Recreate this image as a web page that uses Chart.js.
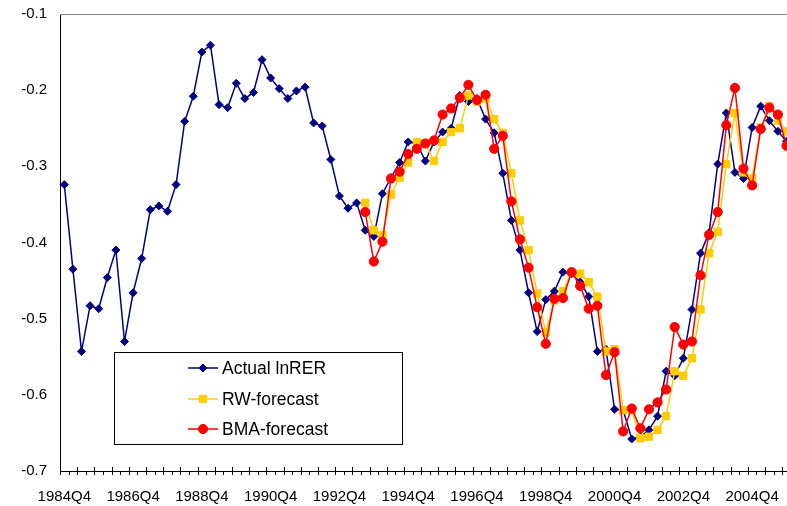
<!DOCTYPE html>
<html>
<head>
<meta charset="utf-8">
<script src="https://cdn.jsdelivr.net/npm/chart.js@4.4.0/dist/chart.umd.min.js"></script>
<style>
  html, body { margin: 0; padding: 0; background: #fff; overflow: hidden; }
  #wrap { position: relative; width: 797px; height: 506px; }
</style>
</head>
<body>
<div id="wrap"><canvas id="rer"></canvas></div>
<script>
// quarters 1984Q4 .. 2005Q4
const quarters = [
  '1984Q4',
  '1985Q1', '1985Q2', '1985Q3', '1985Q4', '1986Q1', '1986Q2', '1986Q3', '1986Q4',
  '1987Q1', '1987Q2', '1987Q3', '1987Q4', '1988Q1', '1988Q2', '1988Q3', '1988Q4',
  '1989Q1', '1989Q2', '1989Q3', '1989Q4', '1990Q1', '1990Q2', '1990Q3', '1990Q4',
  '1991Q1', '1991Q2', '1991Q3', '1991Q4', '1992Q1', '1992Q2', '1992Q3', '1992Q4',
  '1993Q1', '1993Q2', '1993Q3', '1993Q4', '1994Q1', '1994Q2', '1994Q3', '1994Q4',
  '1995Q1', '1995Q2', '1995Q3', '1995Q4', '1996Q1', '1996Q2', '1996Q3', '1996Q4',
  '1997Q1', '1997Q2', '1997Q3', '1997Q4', '1998Q1', '1998Q2', '1998Q3', '1998Q4',
  '1999Q1', '1999Q2', '1999Q3', '1999Q4', '2000Q1', '2000Q2', '2000Q3', '2000Q4',
  '2001Q1', '2001Q2', '2001Q3', '2001Q4', '2002Q1', '2002Q2', '2002Q3', '2002Q4',
  '2003Q1', '2003Q2', '2003Q3', '2003Q4', '2004Q1', '2004Q2', '2004Q3', '2004Q4',
  '2005Q1', '2005Q2', '2005Q3', '2005Q4'
];

// labels printed under the axis
const tickLabels = ['1984Q4', '1986Q4', '1988Q4', '1990Q4', '1992Q4', '1994Q4',
                    '1996Q4', '1998Q4', '2000Q4', '2002Q4', '2004Q4'];

const actualRER = [
  -0.324, -0.435, -0.543, -0.483, -0.487, -0.446, -0.410, -0.530, -0.466, -0.421,
  -0.357, -0.352, -0.359, -0.324, -0.241, -0.208, -0.150, -0.141, -0.219, -0.223,
  -0.191, -0.211, -0.203, -0.160, -0.184, -0.198, -0.211, -0.201, -0.196, -0.243,
  -0.247, -0.291, -0.339, -0.355, -0.348, -0.384, -0.392, -0.336, -0.315, -0.295,
  -0.268, -0.270, -0.293, -0.268, -0.255, -0.250, -0.207, -0.215, -0.211, -0.238,
  -0.256, -0.309, -0.371, -0.410, -0.466, -0.517, -0.475, -0.464, -0.439, -0.441,
  -0.452, -0.471, -0.543, -0.540, -0.619, -0.620, -0.658, -0.655, -0.646, -0.628,
  -0.569, -0.575, -0.552, -0.488, -0.414, -0.387, -0.297, -0.230, -0.308, -0.316,
  -0.249, -0.221, -0.240, -0.254, -0.267
];

// forecasts start at 1993Q3
const forecastStart = '1993Q3';

const rwForecast = [
  -0.348, -0.384, -0.390, -0.337, -0.315, -0.295, -0.268, -0.270, -0.293, -0.268,
  -0.255, -0.250, -0.207, -0.215, -0.211, -0.238, -0.256, -0.309, -0.371, -0.410,
  -0.467, -0.518, -0.476, -0.464, -0.439, -0.441, -0.452, -0.471, -0.543, -0.540,
  -0.620, -0.620, -0.657, -0.655, -0.646, -0.628, -0.569, -0.575, -0.552, -0.488,
  -0.414, -0.386, -0.297, -0.230, -0.308, -0.316, -0.249, -0.221, -0.240, -0.254
];

const bmaForecast = [
  -0.360, -0.425, -0.399, -0.316, -0.307, -0.284, -0.277, -0.270, -0.266, -0.232,
  -0.224, -0.210, -0.193, -0.213, -0.206, -0.277, -0.260, -0.346, -0.396, -0.433,
  -0.485, -0.533, -0.474, -0.473, -0.439, -0.457, -0.487, -0.483, -0.574, -0.544,
  -0.648, -0.618, -0.644, -0.619, -0.610, -0.593, -0.511, -0.534, -0.530, -0.443,
  -0.390, -0.360, -0.246, -0.197, -0.303, -0.325, -0.251, -0.223, -0.232, -0.273
];

const lead = Array(quarters.indexOf(forecastStart)).fill(null);

const FONT = 'Arial, "Liberation Sans", sans-serif';

// grey frame, category tick marks and the boxed legend
const excelFrame = {
  id: 'excelFrame',
  afterDraw(chart) {
    const { ctx, chartArea: a, scales: { x } } = chart;
    ctx.save();
    ctx.lineWidth = 1;
    ctx.strokeStyle = '#808080';
    ctx.beginPath();
    ctx.moveTo(a.left, a.top + 0.5);
    ctx.lineTo(a.right, a.top + 0.5);
    ctx.moveTo(a.right - 0.5, a.top);
    ctx.lineTo(a.right - 0.5, a.bottom);
    ctx.stroke();

    // tick marks on the category axis
    const step = x.getPixelForValue(1) - x.getPixelForValue(0);
    const first = x.getPixelForValue(0) - step / 2;
    ctx.strokeStyle = '#000';
    ctx.beginPath();
    for (let k = 0; k <= quarters.length; k++) {
      const px = Math.round(first + k * step) + 0.5;
      ctx.moveTo(px, a.bottom - (k % 2 ? 0 : 4));
      ctx.lineTo(px, a.bottom + 4);
    }
    ctx.stroke();

    // legend box
    const box = { x: 114.5, y: 352.5, w: 288, h: 92 };
    ctx.fillStyle = '#fff';
    ctx.fillRect(box.x, box.y, box.w, box.h);
    ctx.strokeStyle = '#000';
    ctx.strokeRect(box.x, box.y, box.w, box.h);

    const rows = [368, 399, 429];
    ctx.font = '17.5px ' + FONT;
    ctx.textBaseline = 'middle';
    chart.data.datasets.forEach((ds, r) => {
      const y = rows[r];
      ctx.strokeStyle = ds.borderColor;
      ctx.lineWidth = ds.borderWidth;
      ctx.beginPath();
      ctx.moveTo(188, y);
      ctx.lineTo(218, y);
      ctx.stroke();
      ctx.fillStyle = ds.pointBackgroundColor;
      ctx.strokeStyle = ds.pointBorderColor;
      ctx.lineWidth = 1;
      Chart.helpers.drawPoint(ctx, {
        pointStyle: ds.pointStyle, radius: ds.pointRadius, borderWidth: 1, rotation: 0
      }, 203, y);
      ctx.fillStyle = '#000';
      ctx.fillText(ds.label, 222, y + 1);
    });
    ctx.restore();
  }
};

new Chart(document.getElementById('rer'), {
  type: 'line',
  data: {
    labels: quarters,
    datasets: [
      {
        label: 'Actual lnRER',
        data: actualRER,
        borderColor: '#000080',
        borderWidth: 1.5,
        pointStyle: 'rectRot',
        pointRadius: 4,
        pointBackgroundColor: '#000080',
        pointBorderColor: '#000080',
        pointBorderWidth: 1,
        tension: 0,
        order: 3
      },
      {
        label: 'RW-forecast',
        data: lead.concat(rwForecast),
        borderColor: '#FFCC00',
        borderWidth: 1.5,
        pointStyle: 'rect',
        pointRadius: 5.2,
        pointBackgroundColor: '#FFCC00',
        pointBorderColor: '#FFCC00',
        pointBorderWidth: 1,
        tension: 0,
        order: 2
      },
      {
        label: 'BMA-forecast',
        data: lead.concat(bmaForecast),
        borderColor: '#FF0000',
        borderWidth: 1.5,
        pointStyle: 'circle',
        pointRadius: 4.6,
        pointBackgroundColor: '#FF0000',
        pointBorderColor: '#FF0000',
        pointBorderWidth: 1,
        tension: 0,
        order: 1
      }
    ]
  },
  options: {
    responsive: true,
    maintainAspectRatio: false,
    animation: false,
    devicePixelRatio: 1,
    layout: { padding: { top: 8, right: 3, left: 0, bottom: 0 } },
    plugins: {
      legend: { display: false },
      tooltip: { enabled: false }
    },
    scales: {
      x: {
        type: 'category',
        offset: true,
        grid: { display: false },
        border: { display: true, color: '#000', width: 1 },
        ticks: {
          autoSkip: false,
          maxRotation: 0,
          minRotation: 0,
          padding: 9,
          color: '#000',
          font: { family: FONT, size: 15 },
          callback: function(value) {
            const lab = this.getLabelForValue(value);
            return tickLabels.includes(lab) ? lab : '';
          }
        },
        afterFit: s => { s.height = 35; }
      },
      y: {
        min: -0.7,
        max: -0.1,
        grid: { display: false },
        border: { display: true, color: '#000', width: 1 },
        ticks: {
          stepSize: 0.1,
          padding: 5,
          color: '#000',
          font: { family: FONT, size: 15 },
          callback: v => v.toFixed(1)
        },
        afterFit: s => { s.width = 60; }
      }
    }
  },
  plugins: [excelFrame]
});
</script>
</body>
</html>
